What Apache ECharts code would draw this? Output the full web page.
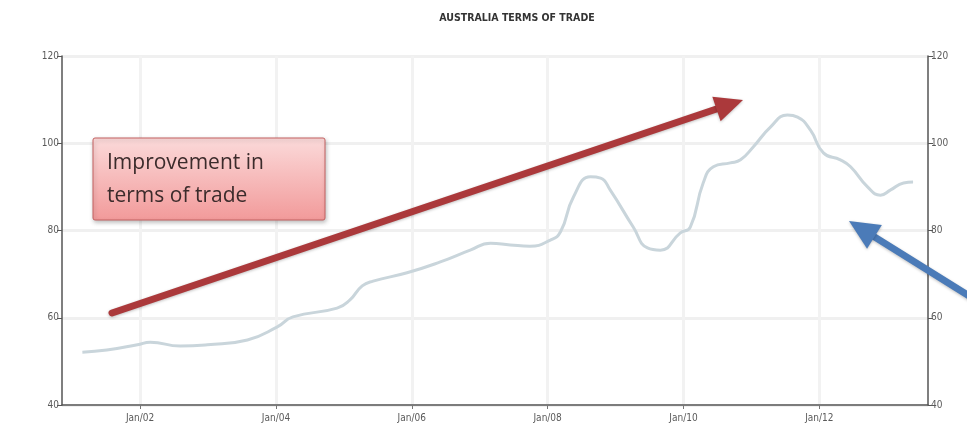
<!DOCTYPE html>
<html>
<head>
<meta charset="utf-8">
<script src="https://cdn.jsdelivr.net/npm/echarts@6/dist/echarts.min.js"></script>
<style>
  html, body { margin: 0; padding: 0; background: #ffffff; }
  #chart { width: 967px; height: 432px; }
</style>
</head>
<body>
<div id="chart"></div>
<script>
// Australia terms of trade index, sampled along the series (decimal years)
const dates = [
  2001.15, 2001.51, 2001.96, 2002.15, 2002.59, 2002.99, 2003.58, 2004.02,
  2004.25, 2004.90, 2005.09, 2005.27, 2005.43, 2005.93, 2006.42, 2006.86,
  2007.16, 2007.45, 2007.74, 2008.04, 2008.19, 2008.38, 2008.63, 2008.78,
  2008.92, 2009.26, 2009.47, 2009.66, 2009.95, 2010.10, 2010.29, 2010.44,
  2010.69, 2010.84, 2011.03, 2011.28, 2011.53, 2011.68, 2011.87, 2012.06,
  2012.31, 2012.46, 2012.71, 2012.90, 2013.05, 2013.24, 2013.38
];
const values = [
  52.1, 52.6, 53.8, 54.4, 53.5, 53.8, 54.9, 57.9,
  60.2, 62.2, 64.1, 67.3, 68.4, 70.3, 72.8, 75.5,
  77.1, 76.7, 76.4, 77.8, 79.7, 87.7, 92.3, 92.0,
  89.3, 80.8, 76.0, 75.5, 79.4, 80.8, 90.9, 94.6,
  95.5, 96.2, 99.2, 103.7, 106.5, 106.0, 103.0, 97.8,
  96.2, 94.6, 90.0, 88.1, 89.3, 90.9, 91.1
];
const tickYears = [2002, 2004, 2006, 2008, 2010, 2012];

const chart = echarts.init(document.getElementById('chart'), null, { renderer: 'canvas' });

const axisText = { color: '#5a5a5a', fontSize: 10, fontFamily: 'DejaVu Sans Condensed, DejaVu Sans, sans-serif' };

function yAxisDef(pos) {
  return {
    type: 'value', position: pos, min: 40, max: 120, interval: 20,
    axisLine: { show: true, lineStyle: { color: '#555', width: 1.5 } },
    axisTick: { show: true, length: 5, lineStyle: { color: '#555' } },
    axisLabel: Object.assign({ margin: 3 }, axisText),
    splitLine: { show: pos === 'left', lineStyle: { color: '#f0f0f0', width: 3 } }
  };
}

// annotation arrow helper: shaft + triangular head, tip at (tx, ty), coming from (sx, sy)
function arrow(sx, sy, tx, ty, color, shaft, headLen, headHalf) {
  const dx = tx - sx, dy = ty - sy, len = Math.hypot(dx, dy);
  const ux = dx / len, uy = dy / len, nx = -uy, ny = ux;
  const bx = tx - ux * headLen, by = ty - uy * headLen;
  return [
    { type: 'line', shape: { x1: sx, y1: sy, x2: bx, y2: by },
      style: { stroke: color, lineWidth: shaft, lineCap: 'round', shadowBlur: 3, shadowColor: 'rgba(0,0,0,0.25)', shadowOffsetY: 1 }, z: 20 },
    { type: 'polygon', shape: { points: [[tx, ty], [bx + nx * headHalf, by + ny * headHalf], [bx - nx * headHalf, by - ny * headHalf]] },
      style: { fill: color, shadowBlur: 3, shadowColor: 'rgba(0,0,0,0.25)', shadowOffsetY: 1 }, z: 20 }
  ];
}

chart.setOption({
  backgroundColor: '#ffffff',
  animation: false,
  grid: { left: 62, right: 39, top: 56, bottom: 27 },
  xAxis: {
    type: 'value', min: 2000.85, max: 2013.6,
    axisLine: { show: true, lineStyle: { color: '#555', width: 1.5 } },
    axisTick: { show: true, length: 4, customValues: tickYears, lineStyle: { color: '#777' } },
    axisLabel: Object.assign({
      customValues: tickYears, margin: 8,
      formatter: v => 'Jan/' + String(Math.round(v)).slice(2)
    }, axisText),
    splitLine: { show: true, lineStyle: { color: '#f2f2f2', width: 3 } }
  },
  yAxis: [yAxisDef('left'), yAxisDef('right')],
  series: [{
    type: 'line',
    data: dates.map((d, i) => [d, values[i]]),
    smooth: 0.5,
    showSymbol: false,
    lineStyle: { color: '#c9d5db', width: 3 },
    z: 5
  }],
  graphic: [
    {
      type: 'text', x: 517, y: 13, z: 30,
      style: {
        text: 'AUSTRALIA TERMS OF TRADE', align: 'center',
        fill: '#333', font: 'bold 10.5px "DejaVu Sans Condensed", "DejaVu Sans", sans-serif'
      }
    },
    ...arrow(112, 313, 743, 100, '#ab393b', 7, 28, 13),
    ...arrow(990, 309, 849, 221, '#4b7bb8', 7, 30, 14),
    {
      type: 'rect', z: 25,
      shape: { x: 93, y: 138, width: 232, height: 82, r: 2 },
      style: {
        fill: new echarts.graphic.LinearGradient(0, 0, 0, 1, [
          { offset: 0, color: '#fbdada' },
          { offset: 1, color: '#f29a9a' }
        ]),
        stroke: '#c46060', lineWidth: 1,
        shadowBlur: 4, shadowColor: 'rgba(0,0,0,0.25)', shadowOffsetX: 1, shadowOffsetY: 2
      }
    },
    {
      type: 'text', z: 26, left: 107, top: 147,
      style: {
        text: 'Improvement in\nterms of trade',
        fill: '#3b2b2b', font: '21px "Open Sans", sans-serif', lineHeight: 33
      }
    }
  ]
});
</script>
</body>
</html>
